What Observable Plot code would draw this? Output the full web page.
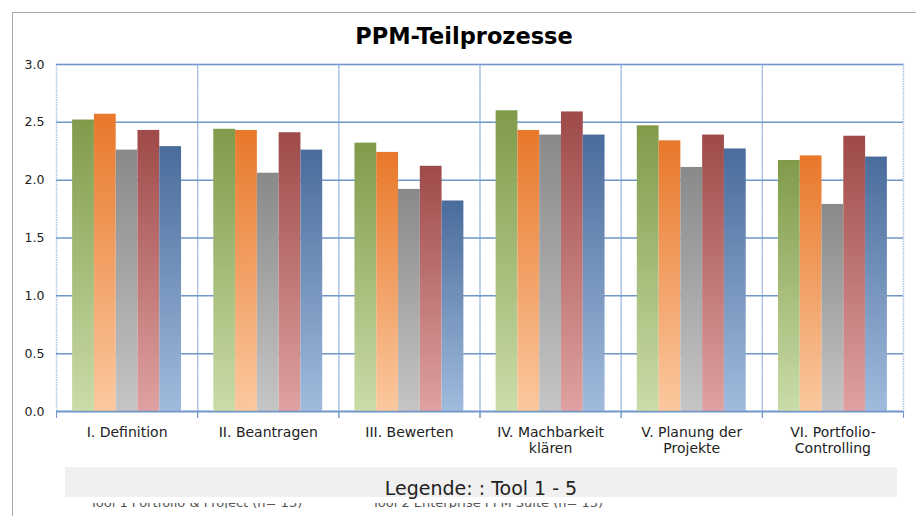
<!DOCTYPE html>
<html><head><meta charset="utf-8">
<script src="https://cdn.jsdelivr.net/npm/d3@7"></script>
<script src="https://cdn.jsdelivr.net/npm/@observablehq/plot@0.6"></script>
<style>
body{margin:0;background:#fff;font-family:"DejaVu Sans",sans-serif;}
#wrap{position:relative;width:916px;height:516px;overflow:hidden;background:#fff;}
#border{position:absolute;left:12px;top:12px;width:1000px;height:1000px;border-left:1.5px solid #a8a8a8;border-top:1.5px solid #a8a8a8;}
#chart{position:absolute;left:0;top:0;}
#title{position:absolute;left:0;width:928px;top:25px;text-align:center;font-weight:bold;font-size:22.5px;line-height:22px;color:#000;}
#legendbox{position:absolute;left:65px;top:467px;width:832px;height:30px;background:#f0f0f0;}
#legend{position:absolute;left:65px;width:832px;top:479px;text-align:center;font-size:19px;line-height:19px;color:#222;}
#cut{position:absolute;left:0;top:503px;width:916px;height:5px;overflow:hidden;}
#cut span{position:absolute;top:-3.5px;font-size:13px;line-height:5px;color:#555;white-space:nowrap;}
</style></head><body>
<div id="wrap">
  <div id="border"></div>
  <div id="chart"></div>
  <div id="title">PPM-Teilprozesse</div>
  <div id="legendbox"></div>
  <div id="legend">Legende: : Tool 1 - 5</div>
  <div id="cut"><span style="left:90px">Tool 1 Portfolio &amp; Project (n= 13)</span><span style="left:372px">Tool 2 Enterprise PPM Suite (n= 13)</span></div>
</div>
<script>
const categories = ["I. Definition", "II. Beantragen", "III. Bewerten", "IV. Machbarkeit\nklären", "V. Planung der\nProjekte", "VI. Portfolio-\nControlling"];
const tools = ["Tool 1", "Tool 2", "Tool 3", "Tool 4", "Tool 5"];
const tool1 = [2.52, 2.44, 2.32, 2.60, 2.47, 2.17];
const tool2 = [2.57, 2.43, 2.24, 2.43, 2.34, 2.21];
const tool3 = [2.26, 2.06, 1.92, 2.39, 2.11, 1.79];
const tool4 = [2.43, 2.41, 2.12, 2.59, 2.39, 2.38];
const tool5 = [2.29, 2.26, 1.82, 2.39, 2.27, 2.20];
const yTicks = [0, 0.5, 1, 1.5, 2, 2.5, 3];
const gradientStops = [["#7f9b4a", "#cadca8"], ["#e8782a", "#fbc89f"], ["#898989", "#c5c5c5"], ["#9e4a49", "#dfa1a1"], ["#4a6c9b", "#a0bbdd"]];

const seriesValues = [tool1, tool2, tool3, tool4, tool5];
const data = tools.flatMap((t, i) => categories.map((c, j) => ({category: c, tool: t, value: seriesValues[i][j]})));

const W = 916, H = 516, mT = 64, mB = 105, mL = 56, mR = 13;
const gridColor = "#7096c8";

const chart = Plot.plot({
  width: W, height: H, marginTop: mT, marginBottom: mB, marginLeft: mL, marginRight: mR,
  style: {fontFamily: "DejaVu Sans", fontSize: "12.5px", color: "#222", background: "transparent", overflow: "visible"},
  fx: {domain: categories, padding: 0, round: false, label: null},
  x: {domain: tools, paddingInner: 0, paddingOuter: 0.74, round: false, axis: null},
  y: {domain: [0, 3], label: null},
  marks: [
    Plot.frame({stroke: "#a9c1e2", strokeDasharray: "1.5,1", strokeWidth: 1.5}),
    Plot.ruleY(yTicks, {stroke: gridColor, strokeWidth: 1.5}),
    ...tools.map((t, i) => Plot.barY(data.filter(d => d.tool === t), {fx: "category", x: "tool", y: "value", fill: `url(#grad${i})`})),
    Plot.ruleY([0], {stroke: gridColor, strokeWidth: 1.5}),
    Plot.frame({anchor: "left", stroke: gridColor, strokeWidth: 1, insetTop: H - mT - mB, insetBottom: -6}),
    Plot.frame({anchor: "right", stroke: gridColor, strokeWidth: 1, insetTop: H - mT - mB, insetBottom: -6}),
    Plot.axisY({ticks: yTicks, tickFormat: d3.format(".1f"), tickSize: 0, tickPadding: 12, fontSize: 12.5, label: null}),
    Plot.axisFx({anchor: "bottom", tickSize: 0, tickPadding: 14, fontSize: 14, lineHeight: 1.15, label: null})
  ]
});

const defs = d3.select(chart).insert("defs", ":first-child");
gradientStops.forEach((s, i) => {
  const g = defs.append("linearGradient").attr("id", `grad${i}`).attr("x1", 0).attr("y1", 0).attr("x2", 0).attr("y2", 1);
  g.append("stop").attr("offset", "0%").attr("stop-color", s[0]);
  g.append("stop").attr("offset", "100%").attr("stop-color", s[1]);
});

document.getElementById("chart").appendChild(chart);
</script>
</body></html>
